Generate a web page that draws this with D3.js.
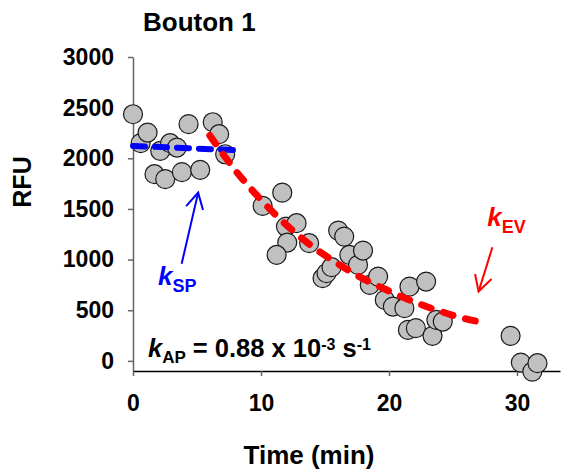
<html>
<head>
<script src="https://d3js.org/d3.v7.min.js"></script>
<style>
    body { margin: 0; background: #fff; }
    svg { font-family: Arial, "Liberation Sans", sans-serif; font-weight: bold; }
    .pt { fill: #c0c0c0; stroke: #1a1a1a; stroke-width: 1.2px; }
    .axis path, .axis line { stroke: #666; stroke-width: 1.5px; }
    .xaxis path { stroke: #000; }
    .axis text { font-size: 23px; font-weight: bold; fill: #000; font-family: Arial, "Liberation Sans", sans-serif; }
</style>
</head>
<body>
<svg width=580 height=474></svg>
<script>
    // scatter data: time (min) and RFU
    let timeMin = [0, 0.6, 1.14, 2.13, 2.9, 3.43, 1.68, 2.52, 3.82, 5.25, 4.34, 6.23, 6.73, 7.2,
        10.13, 11.66, 11.95, 12.78, 12.05, 11.22, 13.76, 14.81, 15.12, 15.51, 16.03, 16.5, 16.9,
        17.58, 17.97, 18.5, 19.15, 19.67, 20.3, 21.2, 21.6, 22.9, 21.48, 22.1, 23.4, 23.7, 24.2,
        29.5, 30.3, 31.2, 31.6];
    let rfu = [2435, 2150, 2254, 2073, 2149, 2106, 1843, 1794, 1863, 1886, 2337, 2356, 2238, 2040,
        1530, 1661, 1326, 1359, 1168, 1046, 1162, 816, 866, 925, 1286, 1227, 1046,
        948, 1089, 750, 832, 602, 536, 520, 733, 783, 306, 323, 247, 405, 388,
        247, -17, -106, -23];

    // fitted lines
    let spTime = [0, 8.05];
    let spRFU = [2122, 2080];
    let evTime = [6, 8, 10, 12, 14, 16, 18, 20, 22, 24, 26, 27.1];
    let evRFU = [2225, 1880, 1590, 1340, 1130, 960, 810, 690, 580, 490, 415, 385];

    let xTicks = [0, 10, 20, 30];
    let yTicks = [0, 500, 1000, 1500, 2000, 2500, 3000];

    let svg = d3.select('svg');

    let x = d3.scaleLinear().domain([0, 33.36]).range([133, 560]);
    let y = d3.scaleLinear().domain([-100, 3000]).range([371, 57]);

    svg.append('g')
        .attr('class', 'axis yaxis')
        .attr('transform', 'translate(133,0)')
        .call(d3.axisLeft(y).tickValues(yTicks).tickFormat(d3.format('d'))
            .tickSize(5).tickSizeOuter(0).tickPadding(14));

    svg.append('g')
        .attr('class', 'axis xaxis')
        .attr('transform', 'translate(0,371)')
        .call(d3.axisBottom(x).tickValues(xTicks).tickFormat(d3.format('d'))
            .tickSize(5).tickSizeOuter(0).tickPadding(19));

    let pts = timeMin.map((t, i) => [t, rfu[i]]);
    svg.append('g').selectAll('circle')
        .data(pts)
        .enter()
        .append('circle')
        .attr('class', 'pt')
        .attr('cx', d => x(d[0]))
        .attr('cy', d => y(d[1]))
        .attr('r', 9.5);

    let line = d3.line().x(d => x(d[0])).y(d => y(d[1]));

    svg.append('path')
        .attr('d', line(spTime.map((t, i) => [t, spRFU[i]])))
        .attr('fill', 'none')
        .attr('stroke', '#0000ff')
        .attr('stroke-width', 6)
        .attr('stroke-linecap', 'round')
        .attr('stroke-dasharray', '12,10');

    svg.append('path')
        .attr('d', line.curve(d3.curveMonotoneX)(evTime.map((t, i) => [t, evRFU[i]])))
        .attr('fill', 'none')
        .attr('stroke', '#ff0000')
        .attr('stroke-width', 7)
        .attr('stroke-linecap', 'round')
        .attr('stroke-dasharray', '10,13');

    // arrows
    let arrow = function(t0, r0, t1, r1, color) {
        let x0 = x(t0), y0 = y(r0), x1 = x(t1), y1 = y(r1);
        let a = Math.atan2(y1 - y0, x1 - x0);
        let g = svg.append('g')
            .attr('stroke', color)
            .attr('stroke-width', 2)
            .attr('fill', 'none');
        g.append('line').attr('x1', x0).attr('y1', y0).attr('x2', x1).attr('y2', y1);
        let len = 18, spread = 0.5;
        let p = [a + Math.PI - spread, a + Math.PI + spread].map(b => [x1 + len * Math.cos(b), y1 + len * Math.sin(b)]);
        g.append('path').attr('d', 'M' + p[0] + 'L' + [x1, y1] + 'L' + p[1]);
    };
    arrow(3.8, 958, 5.09, 1661, '#0000ff');
    arrow(28.08, 1122, 27.0, 684, '#ff0000');

    // labels
    let kLabel = function(t, r, sub, color) {
        let tx = svg.append('text')
            .attr('x', x(t))
            .attr('y', y(r))
            .attr('fill', color);
        tx.append('tspan').attr('font-size', 26).attr('font-style', 'italic').text('k');
        tx.append('tspan').attr('font-size', 18).attr('dy', 7).text(sub);
    };
    kLabel(1.95, 750, 'SP', '#0000ff');
    kLabel(27.67, 1333, 'EV', '#ff0000');

    let ap = svg.append('text')
        .attr('x', x(1.17))
        .attr('y', y(42))
        .attr('fill', '#000')
        .attr('font-size', 25.5);
    ap.append('tspan').attr('font-style', 'italic').text('k');
    ap.append('tspan').attr('font-size', 17).attr('dy', 6.5).text('AP');
    ap.append('tspan').attr('dy', -6.5).text(' = 0.88 x 10');
    ap.append('tspan').attr('font-size', 16).attr('dy', -7).text('-3');
    ap.append('tspan').attr('dy', 7).text(' s');
    ap.append('tspan').attr('font-size', 16).attr('dy', -7).text('-1');

    svg.append('text')
        .attr('x', 143)
        .attr('y', 31)
        .attr('font-size', 26)
        .text('Bouton 1');

    svg.append('text')
        .attr('transform', 'translate(31,182) rotate(-90)')
        .attr('text-anchor', 'middle')
        .attr('font-size', 25)
        .text('RFU');

    svg.append('text')
        .attr('x', 309)
        .attr('y', 464)
        .attr('text-anchor', 'middle')
        .attr('font-size', 26)
        .text('Time (min)');
</script>
</body>
</html>
